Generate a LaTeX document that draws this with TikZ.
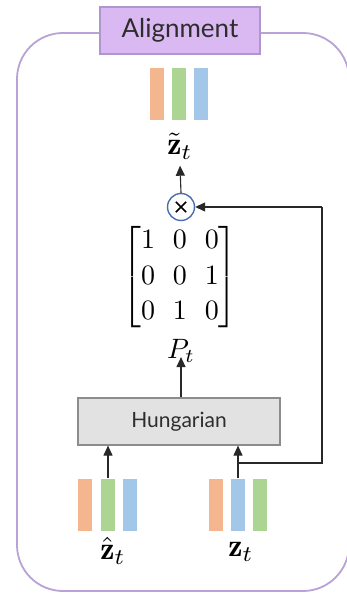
\documentclass[tikz,border=0pt]{standalone}
\usepackage{amsmath}
\usepackage{graphicx}
\usepackage{fontspec}
\newfontfamily\labelfont{Lato}
\usetikzlibrary{arrows.meta}
\definecolor{frameline}{RGB}{184,162,214}
\definecolor{titlefill}{RGB}{218,184,242}
\definecolor{titleline}{RGB}{176,150,206}
\definecolor{barorange}{RGB}{244,182,142}
\definecolor{bargreen}{RGB}{172,212,146}
\definecolor{barblue}{RGB}{162,199,232}
\definecolor{boxfill}{RGB}{226,226,226}
\definecolor{boxline}{RGB}{140,140,140}
\definecolor{opline}{RGB}{72,110,178}
\definecolor{wire}{RGB}{40,40,40}
\definecolor{labeltext}{RGB}{45,45,45}
\newcommand{\bigmath}[1]{\scalebox{1.4}{#1}}
\newcommand{\vecmath}[1]{\scalebox{1.6}{#1}}
\begin{document}
\begin{tikzpicture}[x=0.5pt,y=-0.5pt,
  bar/.style={rectangle, inner sep=0pt, minimum width=7pt, minimum height=26pt},
  orangebar/.style={bar, fill=barorange},
  greenbar/.style={bar, fill=bargreen},
  bluebar/.style={bar, fill=barblue},
  mathlabel/.style={inner sep=0pt},
  flow/.style={draw=wire, line width=0.55pt, -{Triangle[length=5pt,width=4.5pt]}},
  wireline/.style={draw=wire, line width=0.55pt}
]
\useasboundingbox (0,0) rectangle (347,594);

% outer frame and title tab
\draw[frameline, line width=0.9pt, rounded corners=23pt] (17,33) rectangle (349,591);
\node[draw=titleline, fill=titlefill, line width=0.6pt, minimum width=80pt, minimum height=23.5pt,
      inner sep=0pt, text=labeltext, font=\labelfont\fontsize{13}{15}\selectfont] (title) at (180,30.5) {Alignment};

% aligned output
\node[orangebar] (oo) at (157,94) {};
\node[greenbar]  (og) at (179,94) {};
\node[bluebar]   (ob) at (201,94) {};
\node[mathlabel] (zt) at (180,146) {\vecmath{$\tilde{\mathbf{z}}_t$}};

% permutation product
\node[draw=opline, circle, line width=0.7pt, minimum size=13.5pt, inner sep=0pt] (mul) at (181,207) {};
\draw[line width=0.75pt] ([shift={(-2.6pt,-2.6pt)}]mul.center) -- ([shift={(2.6pt,2.6pt)}]mul.center)
                         ([shift={(-2.6pt,2.6pt)}]mul.center) -- ([shift={(2.6pt,-2.6pt)}]mul.center);

% permutation matrix
\node[mathlabel] (mat) at (180,277) {\bigmath{\setlength{\arraycolsep}{3.2pt}\renewcommand{\arraystretch}{1.06}$\begin{bmatrix}1&0&0\\0&0&1\\0&1&0\end{bmatrix}$}};
\node[mathlabel] (pt) at (181,351) {\bigmath{$P_t$}};

% matching block
\node[draw=boxline, fill=boxfill, line width=0.6pt, minimum width=101pt, minimum height=23.5pt,
      inner sep=0pt, text=labeltext, font=\labelfont\fontsize{10.5}{12}\selectfont] (hung) at (179,421.5) {Hungarian};

% inputs
\node[orangebar] (ao) at (85,504.5) {};
\node[greenbar]  (ag) at (108,504.5) {};
\node[bluebar]   (ab) at (130,504.5) {};
\node[mathlabel] (zhat) at (113,551) {\vecmath{$\hat{\mathbf{z}}_t$}};

\node[orangebar] (bo) at (216,504.5) {};
\node[bluebar]   (bb) at (238,504.5) {};
\node[greenbar]  (bg) at (260,504.5) {};
\node[mathlabel] (z) at (241,552) {\vecmath{$\mathbf{z}_t$}};

% connectors
\draw[flow] (ag.north) -- (hung.south -| ag.north);
\draw[flow] (bb.north) -- (hung.south -| bb.north);
\draw[flow] (hung.north -| pt.south) -- ([yshift=3pt]pt.south);
\draw[flow] (mul.north) -- ([yshift=-3pt]zt.south);

\coordinate (branch) at (238,463);
\coordinate (turn1) at (322,463);
\draw[wireline] (branch) -- (turn1) -- (turn1 |- mul.east);
\draw[flow] (turn1 |- mul.east) -- (mul.east);
\end{tikzpicture}
\end{document}
